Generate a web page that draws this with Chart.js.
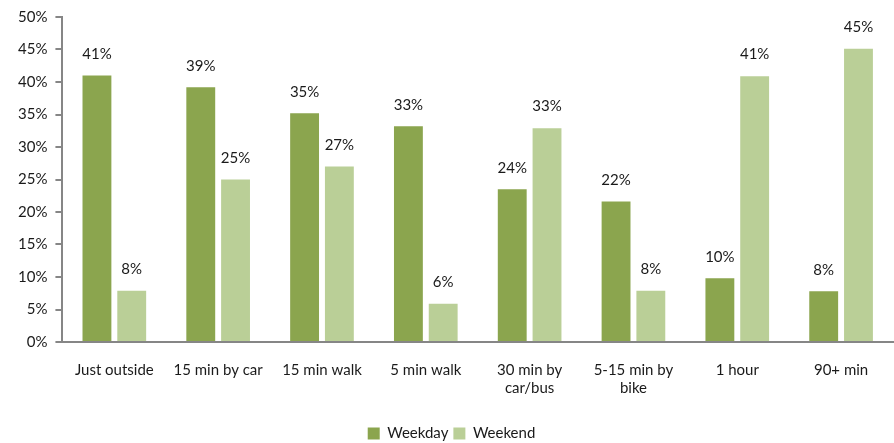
<!DOCTYPE html>
<html>
<head>
<meta charset="utf-8">
<script src="https://cdn.jsdelivr.net/npm/chart.js@4/dist/chart.umd.min.js"></script>
<style>
  html, body { margin: 0; padding: 0; background: #fff; }
  #wrap { width: 894px; height: 443px; position: relative; }
</style>
</head>
<body>
<div id="wrap"><canvas id="myChart"></canvas></div>
<script>
var categories = [
  "Just outside", "15 min by car", "15 min walk", "5 min walk",
  ["30 min by", "car/bus"], ["5-15 min by", "bike"], "1 hour", "90+ min"
];
var weekday = [41, 39.2, 35.2, 33.2, 23.5, 21.6, 9.8, 7.8];
var weekend = [7.9, 25, 27, 5.9, 32.9, 7.9, 40.9, 45.1];
var yTicks = [0, 5, 10, 15, 20, 25, 30, 35, 40, 45, 50];

var FONT = "Lato, 'Open Sans', sans-serif";

// draws the % value above each bar
var valueLabels = {
  id: "valueLabels",
  afterDatasetsDraw: function (chart) {
    var ctx = chart.ctx;
    ctx.save();
    ctx.font = "15px " + FONT;
    ctx.fillStyle = "#1a1a1a";
    ctx.textAlign = "center";
    ctx.textBaseline = "bottom";
    chart.data.datasets.forEach(function (ds, i) {
      chart.getDatasetMeta(i).data.forEach(function (bar, j) {
        ctx.fillText(Math.round(ds.data[j]) + "%", bar.x, bar.y - 14);
      });
    });
    ctx.restore();
  }
};

var ctx = document.getElementById("myChart").getContext("2d");
var chart = new Chart(ctx, {
  type: "bar",
  data: {
    labels: categories,
    datasets: [
      {
        label: "Weekday",
        data: weekday,
        backgroundColor: "#8ba54e",
        barPercentage: 0.83,
        categoryPercentage: 0.67
      },
      {
        label: "Weekend",
        data: weekend,
        backgroundColor: "#bacf97",
        barPercentage: 0.83,
        categoryPercentage: 0.67
      }
    ]
  },
  options: {
    responsive: true,
    maintainAspectRatio: false,
    animation: false,
    layout: { padding: { top: -3, right: 1, left: 10, bottom: -8 } },
    plugins: {
      legend: {
        position: "bottom",
        labels: {
          font: { family: FONT, size: 15 },
          color: "#1a1a1a",
          boxWidth: 12,
          boxHeight: 12,
          padding: 5
        }
      },
      tooltip: { enabled: false }
    },
    scales: {
      x: {
        grid: { display: false, drawTicks: false },
        border: { color: "#868686", width: 2 },
        ticks: {
          font: { family: FONT, size: 15 },
          color: "#1a1a1a",
          padding: 19,
          maxRotation: 0,
          autoSkip: false
        },
        afterFit: function (axis) { axis.height += 5; }
      },
      y: {
        min: 0,
        max: 50,
        afterBuildTicks: function (axis) {
          axis.ticks = yTicks.map(function (v) { return { value: v }; });
        },
        grid: { drawOnChartArea: false, tickLength: 7, color: "#868686", lineWidth: 2 },
        border: { color: "#868686", width: 2 },
        ticks: {
          font: { family: FONT, size: 15 },
          color: "#1a1a1a",
          padding: 8,
          callback: function (v) { return v + "%"; }
        }
      }
    }
  },
  plugins: [valueLabels]
});
</script>
</body>
</html>
